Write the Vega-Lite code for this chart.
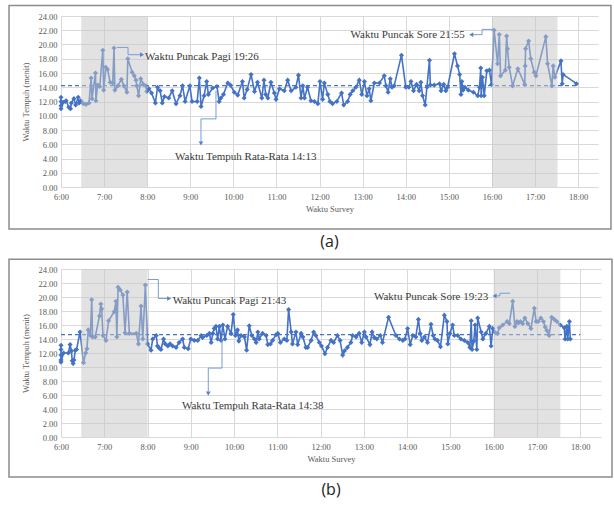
{
  "$schema": "https://vega.github.io/schema/vega-lite/v6.json",
  "padding": {"left": 8, "top": 4, "right": 2, "bottom": 2},
  "background": "white",
  "datasets": {
    "a": [
      {"t":6.00,"v":12.6},{"t":6.00,"v":12.0},{"t":6.00,"v":11.4},{"t":6.00,"v":11.0},{"t":6.05,"v":11.9},{"t":6.10,"v":12.0},{"t":6.12,"v":12.1},{"t":6.18,"v":11.2},{"t":6.22,"v":11.0},{"t":6.24,"v":11.8},{"t":6.30,"v":12.4},{"t":6.34,"v":11.5},{"t":6.40,"v":12.6},{"t":6.42,"v":11.8},{"t":6.46,"v":12.1},{"t":6.52,"v":11.7},{"t":6.58,"v":11.6},{"t":6.65,"v":11.8},{"t":6.70,"v":15.3},{"t":6.72,"v":12.4},{"t":6.80,"v":16.0},{"t":6.81,"v":12.1},{"t":6.85,"v":14.3},{"t":6.90,"v":14.1},{"t":6.97,"v":19.2},{"t":6.99,"v":13.6},{"t":7.04,"v":16.8},{"t":7.08,"v":16.5},{"t":7.14,"v":14.7},{"t":7.20,"v":14.6},{"t":7.23,"v":19.5},{"t":7.25,"v":13.6},{"t":7.32,"v":14.2},{"t":7.40,"v":15.1},{"t":7.46,"v":14.2},{"t":7.53,"v":13.3},{"t":7.55,"v":18.0},{"t":7.65,"v":16.1},{"t":7.70,"v":15.6},{"t":7.74,"v":15.0},{"t":7.76,"v":14.2},{"t":7.80,"v":12.8},{"t":7.85,"v":15.2},{"t":7.91,"v":14.4},{"t":7.97,"v":14.2},{"t":7.99,"v":13.4},{"t":8.04,"v":13.8},{"t":8.10,"v":13.2},{"t":8.19,"v":11.8},{"t":8.24,"v":14.0},{"t":8.30,"v":13.5},{"t":8.35,"v":11.8},{"t":8.40,"v":12.7},{"t":8.50,"v":12.5},{"t":8.58,"v":13.5},{"t":8.67,"v":11.7},{"t":8.76,"v":12.8},{"t":8.82,"v":14.2},{"t":8.88,"v":12.0},{"t":8.99,"v":14.2},{"t":9.04,"v":12.0},{"t":9.16,"v":12.0},{"t":9.21,"v":15.3},{"t":9.25,"v":11.3},{"t":9.32,"v":12.8},{"t":9.38,"v":14.8},{"t":9.42,"v":13.0},{"t":9.52,"v":13.9},{"t":9.62,"v":14.1},{"t":9.67,"v":12.0},{"t":9.71,"v":12.5},{"t":9.77,"v":13.0},{"t":9.87,"v":14.6},{"t":9.93,"v":14.3},{"t":10.02,"v":13.3},{"t":10.10,"v":12.9},{"t":10.21,"v":14.8},{"t":10.25,"v":12.5},{"t":10.32,"v":13.7},{"t":10.41,"v":15.8},{"t":10.49,"v":13.4},{"t":10.56,"v":14.7},{"t":10.66,"v":12.5},{"t":10.71,"v":15.0},{"t":10.75,"v":13.0},{"t":10.80,"v":12.5},{"t":10.87,"v":14.7},{"t":10.95,"v":13.2},{"t":10.99,"v":12.3},{"t":11.07,"v":13.8},{"t":11.18,"v":13.5},{"t":11.26,"v":15.0},{"t":11.34,"v":13.5},{"t":11.45,"v":14.0},{"t":11.51,"v":15.7},{"t":11.57,"v":12.5},{"t":11.61,"v":14.2},{"t":11.65,"v":12.5},{"t":11.72,"v":14.0},{"t":11.80,"v":12.1},{"t":11.88,"v":12.0},{"t":11.96,"v":11.7},{"t":12.01,"v":14.8},{"t":12.07,"v":12.3},{"t":12.11,"v":14.6},{"t":12.19,"v":13.0},{"t":12.24,"v":12.0},{"t":12.30,"v":11.7},{"t":12.40,"v":12.0},{"t":12.51,"v":13.2},{"t":12.56,"v":11.5},{"t":12.65,"v":12.0},{"t":12.71,"v":13.0},{"t":12.77,"v":13.5},{"t":12.84,"v":14.0},{"t":12.92,"v":15.0},{"t":12.98,"v":13.0},{"t":13.04,"v":14.8},{"t":13.10,"v":12.8},{"t":13.15,"v":13.8},{"t":13.19,"v":12.1},{"t":13.27,"v":14.6},{"t":13.39,"v":14.6},{"t":13.50,"v":15.6},{"t":13.54,"v":14.2},{"t":13.59,"v":13.3},{"t":13.64,"v":15.2},{"t":13.68,"v":14.0},{"t":13.73,"v":14.2},{"t":13.90,"v":18.5},{"t":14.00,"v":14.0},{"t":14.07,"v":14.0},{"t":14.12,"v":14.8},{"t":14.18,"v":13.5},{"t":14.25,"v":14.4},{"t":14.31,"v":13.5},{"t":14.35,"v":14.7},{"t":14.39,"v":12.8},{"t":14.45,"v":11.5},{"t":14.49,"v":14.0},{"t":14.55,"v":17.8},{"t":14.57,"v":14.3},{"t":14.66,"v":14.3},{"t":14.78,"v":14.5},{"t":14.82,"v":13.5},{"t":14.88,"v":14.4},{"t":14.93,"v":13.5},{"t":14.97,"v":14.0},{"t":15.13,"v":18.7},{"t":15.20,"v":17.0},{"t":15.25,"v":15.8},{"t":15.28,"v":13.0},{"t":15.30,"v":14.8},{"t":15.33,"v":13.6},{"t":15.37,"v":14.0},{"t":15.45,"v":13.6},{"t":15.57,"v":13.3},{"t":15.67,"v":12.8},{"t":15.71,"v":14.0},{"t":15.74,"v":16.7},{"t":15.75,"v":12.8},{"t":15.78,"v":15.4},{"t":15.82,"v":12.8},{"t":15.88,"v":16.3},{"t":15.94,"v":16.4},{"t":15.99,"v":14.4},{"t":16.05,"v":22.0},{"t":16.13,"v":17.3},{"t":16.17,"v":21.4},{"t":16.20,"v":15.6},{"t":16.31,"v":16.4},{"t":16.34,"v":21.2},{"t":16.36,"v":19.4},{"t":16.40,"v":16.8},{"t":16.48,"v":14.2},{"t":16.60,"v":16.6},{"t":16.76,"v":14.4},{"t":16.77,"v":17.0},{"t":16.78,"v":19.4},{"t":16.85,"v":20.5},{"t":16.90,"v":18.0},{"t":16.98,"v":16.1},{"t":17.02,"v":15.6},{"t":17.25,"v":21.1},{"t":17.29,"v":17.3},{"t":17.39,"v":14.2},{"t":17.42,"v":17.0},{"t":17.46,"v":15.4},{"t":17.60,"v":17.7},{"t":17.63,"v":14.5},{"t":17.65,"v":15.8},{"t":17.96,"v":14.5}
    ],
    "b": [
      {"t":6.00,"v":13.1},{"t":6.00,"v":12.5},{"t":6.00,"v":11.7},{"t":6.00,"v":11.0},{"t":6.00,"v":10.7},{"t":6.06,"v":12.0},{"t":6.17,"v":12.0},{"t":6.21,"v":13.2},{"t":6.24,"v":12.3},{"t":6.26,"v":10.9},{"t":6.28,"v":10.5},{"t":6.30,"v":11.0},{"t":6.33,"v":12.4},{"t":6.36,"v":12.5},{"t":6.44,"v":15.0},{"t":6.52,"v":10.6},{"t":6.57,"v":12.0},{"t":6.60,"v":12.6},{"t":6.63,"v":15.3},{"t":6.68,"v":14.5},{"t":6.71,"v":19.6},{"t":6.73,"v":14.3},{"t":6.79,"v":14.3},{"t":6.89,"v":17.3},{"t":6.92,"v":19.0},{"t":6.94,"v":18.3},{"t":6.97,"v":14.5},{"t":7.04,"v":13.8},{"t":7.10,"v":16.6},{"t":7.23,"v":17.9},{"t":7.27,"v":19.4},{"t":7.29,"v":14.3},{"t":7.32,"v":21.4},{"t":7.37,"v":21.0},{"t":7.43,"v":20.3},{"t":7.48,"v":14.9},{"t":7.53,"v":20.7},{"t":7.58,"v":14.8},{"t":7.74,"v":14.8},{"t":7.79,"v":13.3},{"t":7.85,"v":18.7},{"t":7.89,"v":14.0},{"t":7.95,"v":21.7},{"t":8.00,"v":13.3},{"t":8.08,"v":12.4},{"t":8.12,"v":14.0},{"t":8.20,"v":14.5},{"t":8.23,"v":13.0},{"t":8.27,"v":12.7},{"t":8.31,"v":12.5},{"t":8.37,"v":14.0},{"t":8.41,"v":13.3},{"t":8.47,"v":13.0},{"t":8.52,"v":13.3},{"t":8.58,"v":13.0},{"t":8.66,"v":12.8},{"t":8.73,"v":13.5},{"t":8.81,"v":14.0},{"t":8.85,"v":12.8},{"t":8.94,"v":12.6},{"t":9.00,"v":14.0},{"t":9.08,"v":13.8},{"t":9.16,"v":13.8},{"t":9.24,"v":14.5},{"t":9.27,"v":14.2},{"t":9.37,"v":14.5},{"t":9.43,"v":14.8},{"t":9.47,"v":13.5},{"t":9.51,"v":14.8},{"t":9.54,"v":15.5},{"t":9.58,"v":15.8},{"t":9.62,"v":14.0},{"t":9.66,"v":15.8},{"t":9.70,"v":13.8},{"t":9.74,"v":16.0},{"t":9.79,"v":14.0},{"t":9.85,"v":15.8},{"t":9.93,"v":14.8},{"t":9.98,"v":17.5},{"t":10.03,"v":14.5},{"t":10.08,"v":15.3},{"t":10.11,"v":13.7},{"t":10.16,"v":14.5},{"t":10.24,"v":14.3},{"t":10.29,"v":12.4},{"t":10.35,"v":15.9},{"t":10.41,"v":14.5},{"t":10.47,"v":14.0},{"t":10.51,"v":13.5},{"t":10.55,"v":15.0},{"t":10.58,"v":14.0},{"t":10.66,"v":14.8},{"t":10.74,"v":14.5},{"t":10.78,"v":13.2},{"t":10.84,"v":13.3},{"t":10.89,"v":13.8},{"t":10.97,"v":14.6},{"t":11.01,"v":14.8},{"t":11.07,"v":13.5},{"t":11.16,"v":14.0},{"t":11.22,"v":13.8},{"t":11.26,"v":18.2},{"t":11.32,"v":15.0},{"t":11.35,"v":13.3},{"t":11.43,"v":15.0},{"t":11.47,"v":13.2},{"t":11.55,"v":14.8},{"t":11.59,"v":14.3},{"t":11.66,"v":12.8},{"t":11.70,"v":12.8},{"t":11.78,"v":13.8},{"t":11.84,"v":15.0},{"t":11.89,"v":14.5},{"t":11.97,"v":13.5},{"t":12.02,"v":13.0},{"t":12.10,"v":11.9},{"t":12.16,"v":12.8},{"t":12.24,"v":13.8},{"t":12.30,"v":13.5},{"t":12.39,"v":14.5},{"t":12.45,"v":13.8},{"t":12.51,"v":11.7},{"t":12.55,"v":12.3},{"t":12.62,"v":12.8},{"t":12.70,"v":13.5},{"t":12.74,"v":14.5},{"t":12.82,"v":14.3},{"t":12.89,"v":14.8},{"t":12.95,"v":13.5},{"t":13.01,"v":15.0},{"t":13.05,"v":14.3},{"t":13.14,"v":13.2},{"t":13.19,"v":15.0},{"t":13.24,"v":14.2},{"t":13.30,"v":14.0},{"t":13.38,"v":14.5},{"t":13.43,"v":13.5},{"t":13.57,"v":17.1},{"t":13.74,"v":14.5},{"t":13.82,"v":14.0},{"t":13.90,"v":13.8},{"t":13.95,"v":14.0},{"t":14.01,"v":15.5},{"t":14.07,"v":13.2},{"t":14.13,"v":14.5},{"t":14.20,"v":14.3},{"t":14.26,"v":16.8},{"t":14.30,"v":14.8},{"t":14.34,"v":13.8},{"t":14.40,"v":14.3},{"t":14.47,"v":13.5},{"t":14.55,"v":16.1},{"t":14.60,"v":14.5},{"t":14.64,"v":14.0},{"t":14.70,"v":13.8},{"t":14.77,"v":12.9},{"t":14.86,"v":17.4},{"t":14.92,"v":16.5},{"t":14.94,"v":13.3},{"t":14.99,"v":14.8},{"t":15.05,"v":16.0},{"t":15.09,"v":14.5},{"t":15.17,"v":14.5},{"t":15.24,"v":14.0},{"t":15.32,"v":13.8},{"t":15.40,"v":13.5},{"t":15.45,"v":12.8},{"t":15.48,"v":16.6},{"t":15.50,"v":12.5},{"t":15.54,"v":13.7},{"t":15.57,"v":16.0},{"t":15.61,"v":12.5},{"t":15.63,"v":17.0},{"t":15.71,"v":15.0},{"t":15.75,"v":14.0},{"t":15.82,"v":14.8},{"t":15.90,"v":15.8},{"t":15.94,"v":13.0},{"t":15.98,"v":15.5},{"t":16.02,"v":15.0},{"t":16.09,"v":14.8},{"t":16.13,"v":15.6},{"t":16.21,"v":16.0},{"t":16.31,"v":16.5},{"t":16.36,"v":16.2},{"t":16.44,"v":19.4},{"t":16.49,"v":15.8},{"t":16.54,"v":16.5},{"t":16.57,"v":16.3},{"t":16.62,"v":16.5},{"t":16.67,"v":16.2},{"t":16.72,"v":17.0},{"t":16.79,"v":16.2},{"t":16.86,"v":15.5},{"t":16.94,"v":18.4},{"t":16.98,"v":16.5},{"t":17.03,"v":16.5},{"t":17.09,"v":17.0},{"t":17.15,"v":16.5},{"t":17.19,"v":15.7},{"t":17.23,"v":15.2},{"t":17.28,"v":14.5},{"t":17.34,"v":17.1},{"t":17.40,"v":16.8},{"t":17.46,"v":16.5},{"t":17.54,"v":16.0},{"t":17.63,"v":15.6},{"t":17.65,"v":14.0},{"t":17.69,"v":15.8},{"t":17.71,"v":14.0},{"t":17.75,"v":16.5},{"t":17.77,"v":14.0}
    ]
  },
  "config": {
    "view": {"stroke": null},
    "font": "Liberation Serif",
    "concat": {"spacing": 8},
    "title": {"font": "Open Sans", "fontSize": 16, "fontWeight": "normal", "color": "#222222", "orient": "bottom", "offset": 4},
    "axis": {
      "labelFont": "Liberation Serif", "labelFontSize": 8.5, "labelColor": "#595959",
      "titleFont": "Liberation Serif", "titleFontSize": 8.5, "titleFontWeight": "normal", "titleColor": "#595959",
      "gridColor": "#d9d9d9", "gridWidth": 1, "domain": false, "ticks": false, "labelFlush": false, "labelOverlap": false
    }
  },
  "resolve": {"scale": {"x": "independent", "y": "independent"}},
  "vconcat": [
    {
      "width": 537, "height": 171,
      "title": {"text": "(a)"},
      "encoding": {
        "x": {"field": "t", "type": "quantitative", "scale": {"domain": [6, 18.46], "nice": false, "zero": false},
              "axis": {"title": "Waktu Survey", "values": [6,7,8,9,10,11,12,13,14,15,16,17,18], "labelExpr": "datum.value + ':00'", "labelPadding": 5, "titlePadding": 4}},
        "y": {"field": "v", "type": "quantitative", "scale": {"domain": [0, 24], "nice": false, "zero": false},
              "axis": {"title": "Waktu Tempuh (menit)", "values": [0,2,4,6,8,10,12,14,16,18,20,22,24], "format": ".2f", "labelPadding": 4, "titlePadding": 7}}
      },
      "layer": [
        {"data": {"values": [{"t": 4.794, "t2": 18.761, "v": 25.46, "v2": -5.91}]},
         "mark": {"type": "rect", "fillOpacity": 0, "stroke": "#8c8c8c", "strokeWidth": 1.5},
         "encoding": {"x2": {"field": "t2"}, "y2": {"field": "v2"}}},
        {"data": {"name": "a"},
         "mark": {"type": "line", "color": "#4472C4", "strokeWidth": 1.6, "point": {"shape": "diamond", "size": 26, "filled": true, "color": "#4472C4"}}},
        {"data": {"values": [{"t": 6, "t2": 18, "v": 14.22}]},
         "mark": {"type": "rule", "color": "#4472C4", "strokeDash": [4, 3], "strokeWidth": 1.2},
         "encoding": {"x2": {"field": "t2"}}},
        {"data": {"values": [{"t": 6.47, "t2": 8.0, "v": 0, "v2": 24}, {"t": 16.0, "t2": 17.52, "v": 0, "v2": 24}]},
         "mark": {"type": "rect", "color": "#c6c6c6", "opacity": 0.5},
         "encoding": {"x2": {"field": "t2"}, "y2": {"field": "v2"}}},
        {"data": {"values": [
            {"k": "p", "t": 7.30, "v": 19.59}, {"k": "p", "t": 7.555, "v": 19.59}, {"k": "p", "t": 7.555, "v": 18.57}, {"k": "p", "t": 7.86, "v": 18.57},
            {"k": "r", "t": 9.248, "v": 6.3}, {"k": "r", "t": 9.248, "v": 9.56}, {"k": "r", "t": 9.596, "v": 9.56}, {"k": "r", "t": 9.596, "v": 13.5},
            {"k": "s", "t": 15.55, "v": 21.38}, {"k": "s", "t": 15.77, "v": 21.38}, {"k": "s", "t": 15.77, "v": 22.12}, {"k": "s", "t": 16.04, "v": 22.12}
          ]},
         "mark": {"type": "line", "color": "#7a9bd6", "strokeWidth": 1},
         "encoding": {"detail": {"field": "k", "type": "nominal"}}},
        {"data": {"values": [
            {"t": 7.88, "v": 18.57, "s": "triangle-right"},
            {"t": 9.248, "v": 6.1, "s": "triangle-down"},
            {"t": 15.52, "v": 21.38, "s": "triangle-left"}
          ]},
         "mark": {"type": "point", "filled": true, "size": 22, "color": "#5b82cc", "opacity": 1},
         "encoding": {"shape": {"field": "s", "type": "nominal", "scale": null}}},
        {"data": {"values": [
            {"t": 7.95, "v": 18.3, "label": "Waktu Puncak Pagi 19:26"},
            {"t": 8.645, "v": 4.22, "label": "Waktu Tempuh Rata-Rata 14:13"}
          ]},
         "mark": {"type": "text", "align": "left", "baseline": "middle", "fontSize": 11, "font": "Liberation Serif", "color": "#3a3a3a"},
         "encoding": {"text": {"field": "label"}}},
        {"data": {"values": [{"t": 15.37, "v": 21.3, "label": "Waktu Puncak Sore 21:55"}]},
         "mark": {"type": "text", "align": "right", "baseline": "middle", "fontSize": 11, "font": "Liberation Serif", "color": "#3a3a3a"},
         "encoding": {"text": {"field": "label"}}}
      ]
    },
    {
      "width": 540, "height": 168,
      "title": {"text": "(b)"},
      "encoding": {
        "x": {"field": "t", "type": "quantitative", "scale": {"domain": [6, 18.48], "nice": false, "zero": false},
              "axis": {"title": "Waktu Survey", "values": [6,7,8,9,10,11,12,13,14,15,16,17,18], "labelExpr": "datum.value + ':00'", "labelPadding": 5, "titlePadding": 4}},
        "y": {"field": "v", "type": "quantitative", "scale": {"domain": [0, 24], "nice": false, "zero": false},
              "axis": {"title": "Waktu Tempuh (menit)", "values": [0,2,4,6,8,10,12,14,16,18,20,22,24], "format": ".2f", "labelPadding": 4, "titlePadding": 7}}
      },
      "layer": [
        {"data": {"values": [{"t": 4.798, "t2": 18.734, "v": 25.39, "v2": -5.71}]},
         "mark": {"type": "rect", "fillOpacity": 0, "stroke": "#8c8c8c", "strokeWidth": 1.5},
         "encoding": {"x2": {"field": "t2"}, "y2": {"field": "v2"}}},
        {"data": {"name": "b"},
         "mark": {"type": "line", "color": "#4472C4", "strokeWidth": 1.6, "point": {"shape": "diamond", "size": 26, "filled": true, "color": "#4472C4"}}},
        {"data": {"values": [{"t": 6, "t2": 18, "v": 14.63}]},
         "mark": {"type": "rule", "color": "#4472C4", "strokeDash": [4, 3], "strokeWidth": 1.2},
         "encoding": {"x2": {"field": "t2"}}},
        {"data": {"values": [{"t": 6.47, "t2": 8.0, "v": 0, "v2": 24}, {"t": 16.0, "t2": 17.54, "v": 0, "v2": 24}]},
         "mark": {"type": "rect", "color": "#c6c6c6", "opacity": 0.5},
         "encoding": {"x2": {"field": "t2"}, "y2": {"field": "v2"}}},
        {"data": {"values": [
            {"k": "p", "t": 8.004, "v": 22.5}, {"k": "p", "t": 8.249, "v": 22.5}, {"k": "p", "t": 8.249, "v": 19.79}, {"k": "p", "t": 8.47, "v": 19.79},
            {"k": "r", "t": 9.404, "v": 6.5}, {"k": "r", "t": 9.404, "v": 9.84}, {"k": "r", "t": 9.721, "v": 9.84}, {"k": "r", "t": 9.721, "v": 13.98},
            {"k": "s", "t": 16.06, "v": 20.16}, {"k": "s", "t": 16.145, "v": 20.16}, {"k": "s", "t": 16.145, "v": 20.54}, {"k": "s", "t": 16.383, "v": 20.54}
          ]},
         "mark": {"type": "line", "color": "#7a9bd6", "strokeWidth": 1},
         "encoding": {"detail": {"field": "k", "type": "nominal"}}},
        {"data": {"values": [
            {"t": 8.50, "v": 19.79, "s": "triangle-right"},
            {"t": 9.404, "v": 6.2, "s": "triangle-down"},
            {"t": 16.02, "v": 20.16, "s": "triangle-left"}
          ]},
         "mark": {"type": "point", "filled": true, "size": 22, "color": "#5b82cc", "opacity": 1},
         "encoding": {"shape": {"field": "s", "type": "nominal", "scale": null}}},
        {"data": {"values": [
            {"t": 8.58, "v": 19.44, "label": "Waktu Puncak Pagi 21:43"},
            {"t": 8.796, "v": 4.47, "label": "Waktu Tempuh Rata-Rata 14:38"}
          ]},
         "mark": {"type": "text", "align": "left", "baseline": "middle", "fontSize": 11, "font": "Liberation Serif", "color": "#3a3a3a"},
         "encoding": {"text": {"field": "label"}}},
        {"data": {"values": [{"t": 15.875, "v": 19.93, "label": "Waktu Puncak Sore 19:23"}]},
         "mark": {"type": "text", "align": "right", "baseline": "middle", "fontSize": 11, "font": "Liberation Serif", "color": "#3a3a3a"},
         "encoding": {"text": {"field": "label"}}}
      ]
    }
  ]
}
